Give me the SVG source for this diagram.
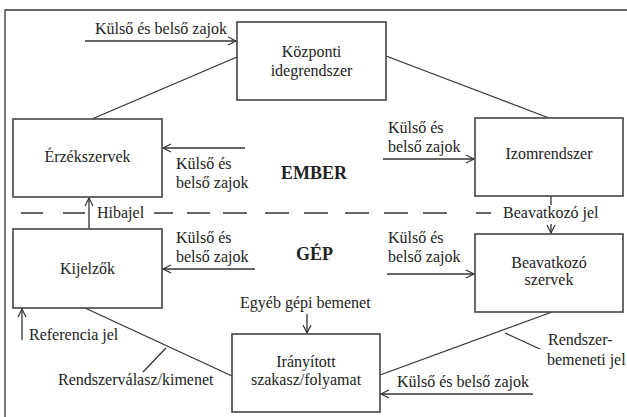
<svg xmlns="http://www.w3.org/2000/svg" width="627" height="417" viewBox="0 0 627 417">
<defs>
<marker id="arr" markerUnits="userSpaceOnUse" markerWidth="12" markerHeight="12" refX="9" refY="5" orient="auto">
<path d="M1,1 L9,5 L1,9" fill="none" stroke="#333" stroke-width="1.2"/>
</marker>
<style>
.box{fill:#fff;stroke:#444;stroke-width:1.6}
.ln{fill:none;stroke:#333;stroke-width:1.3}
.t{font-size:16px;fill:#222}
.c{text-anchor:middle}
.b{font-weight:bold;font-size:18px}
</style>
</defs>
<rect width="627" height="417" fill="#fff"/>
<path d="M5,417 V10 H627" class="ln" stroke-width="1.5"/>

<g id="connectors">
<path class="ln" d="M237,57 L92,119"/>
<path class="ln" d="M386,56 L549,118"/>
<path class="ln" d="M85,308 L232,376"/>
<path class="ln" d="M552,312 L380,375"/>
<path class="ln" d="M143,372 L166,348"/>
<path class="ln" d="M505,333 L540,349"/>
<path class="ln" marker-end="url(#arr)" d="M85,41 H236"/>
<path class="ln" marker-end="url(#arr)" d="M245,148 H163"/>
<path class="ln" marker-end="url(#arr)" d="M255,269 H163"/>
<path class="ln" marker-end="url(#arr)" d="M383,159 H474"/>
<path class="ln" marker-end="url(#arr)" d="M387,274 H474"/>
<path class="ln" marker-end="url(#arr)" d="M533,394 H381"/>
<path class="ln" marker-end="url(#arr)" d="M89,229 V198"/>
<path class="ln" d="M551,196 V205"/>
<path class="ln" marker-end="url(#arr)" d="M551,224 V233"/>
<path class="ln" marker-end="url(#arr)" d="M22,340 V309"/>
<path class="ln" marker-end="url(#arr)" d="M307,314 V333"/>
<path class="ln" stroke-width="1.4" d="M21,213 H43 M63,213 H85 M154,213 H173 M187,213 H210 M223,213 H247 M265,213 H289 M304,213 H328 M345,213 H369 M384,213 H408 M423,213 H447 M476,213 H491"/>
</g>

<g font-family="Liberation Serif, Tinos, Times New Roman, DejaVu Serif, serif">
<g id="kozponti">
<rect class="box" x="237" y="22" width="149" height="78"/>
<text class="t c" x="311.5" y="57">Központi</text>
<text class="t c" x="311.5" y="76">idegrendszer</text>
</g>
<g id="erzekszervek">
<rect class="box" x="13" y="119" width="149" height="78"/>
<text class="t c" x="87.5" y="162">Érzékszervek</text>
</g>
<g id="izomrendszer">
<rect class="box" x="475" y="118" width="148" height="78"/>
<text class="t c" x="549" y="159">Izomrendszer</text>
</g>
<g id="kijelzok">
<rect class="box" x="13" y="229" width="149" height="79"/>
<text class="t c" x="87.5" y="274">Kijelzők</text>
</g>
<g id="beavatkozo">
<rect class="box" x="475" y="234" width="148" height="78"/>
<text class="t c" x="549" y="268">Beavatkozó</text>
<text class="t c" x="549" y="285">szervek</text>
</g>
<g id="iranyitott">
<rect class="box" x="232" y="334" width="148" height="78"/>
<text class="t c" x="306" y="367">Irányított</text>
<text class="t c" x="306" y="385">szakasz/folyamat</text>
</g>

<g id="labels">
<text class="t" x="95" y="34">Külső és belső zajok</text>
<text class="t" x="176" y="169">Külső és</text>
<text class="t" x="176" y="188">belső zajok</text>
<text class="t" x="176" y="243">Külső és</text>
<text class="t" x="176" y="262">belső zajok</text>
<text class="t" x="388" y="133">Külső és</text>
<text class="t" x="388" y="152">belső zajok</text>
<text class="t" x="388" y="243">Külső és</text>
<text class="t" x="388" y="262">belső zajok</text>
<text class="t b" x="281" y="179">EMBER</text>
<text class="t b" x="296" y="260">GÉP</text>
<text class="t" x="97" y="218">Hibajel</text>
<text class="t" x="503" y="218">Beavatkozó jel</text>
<text class="t" x="29" y="340">Referencia jel</text>
<text class="t" x="240" y="308">Egyéb gépi bemenet</text>
<text class="t" x="58" y="385">Rendszerválasz/kimenet</text>
<text class="t" x="548" y="345">Rendszer-</text>
<text class="t" x="547" y="365">bemeneti jel</text>
<text class="t" x="397" y="387">Külső és belső zajok</text>
</g>
</g>
</svg>
